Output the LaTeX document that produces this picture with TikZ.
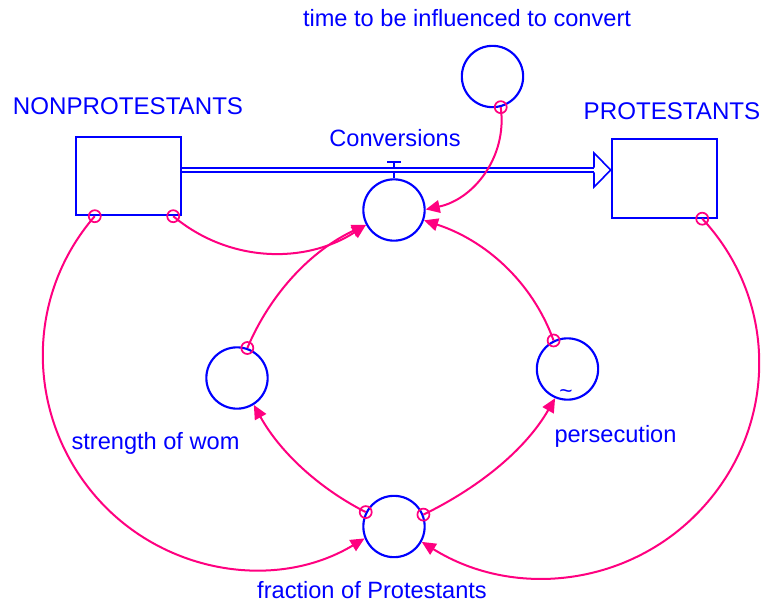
\documentclass[tikz,border=0pt]{standalone}
\usepackage{fontspec}
\setmainfont{Liberation Sans}
\usetikzlibrary{arrows.meta,calc}
\definecolor{vblue}{RGB}{0,0,255}
\definecolor{vpink}{RGB}{255,0,128}
\begin{document}
\begin{tikzpicture}[x=0.75pt,y=0.75pt,
  lbl/.style={text=vblue, font=\fontsize{17.7}{20}\selectfont, inner sep=0, anchor=base},
  lblcap/.style={lbl, font=\fontsize{18.1}{20}\selectfont},
  aux/.style={circle, draw=vblue, line width=1.6pt, minimum size=46pt, inner sep=0},
  stock/.style={rectangle, draw=vblue, line width=1.6pt, minimum width=79pt, minimum height=58.7pt, inner sep=0},
  conn/.style={draw=vpink, line width=1.5pt, -{Triangle[length=10.5pt,width=9.5pt]}},
  orig/.style={draw=vpink, line width=1.3pt},
  pipe/.style={draw=vblue, line width=1.2pt}]
\fill[white] (0,0) rectangle (761,-604);
\useasboundingbox (0,0) rectangle (761,-604);

% stocks
\node[stock] (np) at (128.5,-176) {};
\node[stock] (pr) at (664.5,-178.5) {};

% auxiliaries
\node[aux] (conv) at (394,-210) {};
\node[aux] (time) at (492.5,-76.5) {};
\node[aux] (str) at (237,-378) {};
\node[aux] (pers) at (567.5,-369) {};
\node[aux] (frac) at (394,-526.5) {};

% labels
\node[lblcap] (lnp) at (128,-114.5) {NONPROTESTANTS};
\node[lblcap] (lpr) at (672,-119.5) {PROTESTANTS};
\node[lbl] (lconv) at (395,-146) {Conversions};
\node[lbl] (ltime) at (467,-26.5) {time to be influenced to convert};
\node[lbl] (lstr) at (155.5,-449.5) {strength of wom};
\node[lbl] (lpers) at (615.5,-442.5) {persecution};
\node[lbl] (lfrac) at (372,-598) {fraction of Protestants};
\node[text=vblue, font=\fontsize{17}{17}\selectfont, inner sep=0] (tilde) at (566,-394) {\textasciitilde};

% flow pipe with valve
\coordinate (pS) at ($(np.east)+(0,6)$);
\coordinate (pE) at (594,-170);
\coordinate (vtop) at (394,-162);
\draw[pipe] (vtop) -- (conv.north);
\draw[pipe] ($(vtop)+(-7,0)$) -- ($(vtop)+(7,0)$);
\draw[pipe, double=white, double distance=2.1pt] (pS) -- (pE);
\draw[pipe, line join=miter] ($(pE)+(0,2.3)$) -- ($(pE)+(0,17)$) -- (pr.west |- pE) -- ($(pE)+(0,-17)$) -- ($(pE)+(0,-2.3)$);

% connector origins on stocks
\coordinate (npa) at ($(np.south west)+(20,0)$);
\coordinate (npb) at ($(np.south east)+(-9,0)$);
\coordinate (prb) at ($(pr.south east)+(-16,0)$);
\coordinate (m1) at (93.6,-494);
\coordinate (m2) at (707.6,-502.1);

% connectors
\draw[conn] (time.-75) to[out=-82, in=12] (conv.1);
\draw[conn] (npb) to[out=-40, in=213, looseness=0.96] (conv.208);
\draw[conn] (str.71) to[out=67, in=205, looseness=0.9] (conv.208);
\draw[conn] (pers.116) to[out=110, in=-18, looseness=0.92] (conv.-19);
\draw[conn] (frac.153) to[out=153, in=-61, looseness=0.88] (str.-58);
\draw[conn] (frac.22) to[out=26, in=240, looseness=0.88] (pers.-113);
\draw[conn] (npa) to[out=229, in=130, looseness=0.97] (m1) to[out=310, in=211, looseness=0.97] (frac.202);
\draw[conn] (prb) to[out=-47, in=49.5, looseness=0.98] (m2) to[out=-130.5, in=-32, looseness=0.98] (frac.-29);

% origin markers
\foreach \p in {time.-75, npb, str.71, pers.116, frac.153, frac.22, npa, prb}
  \draw[orig] (\p) circle[radius=6];
\end{tikzpicture}
\end{document}
